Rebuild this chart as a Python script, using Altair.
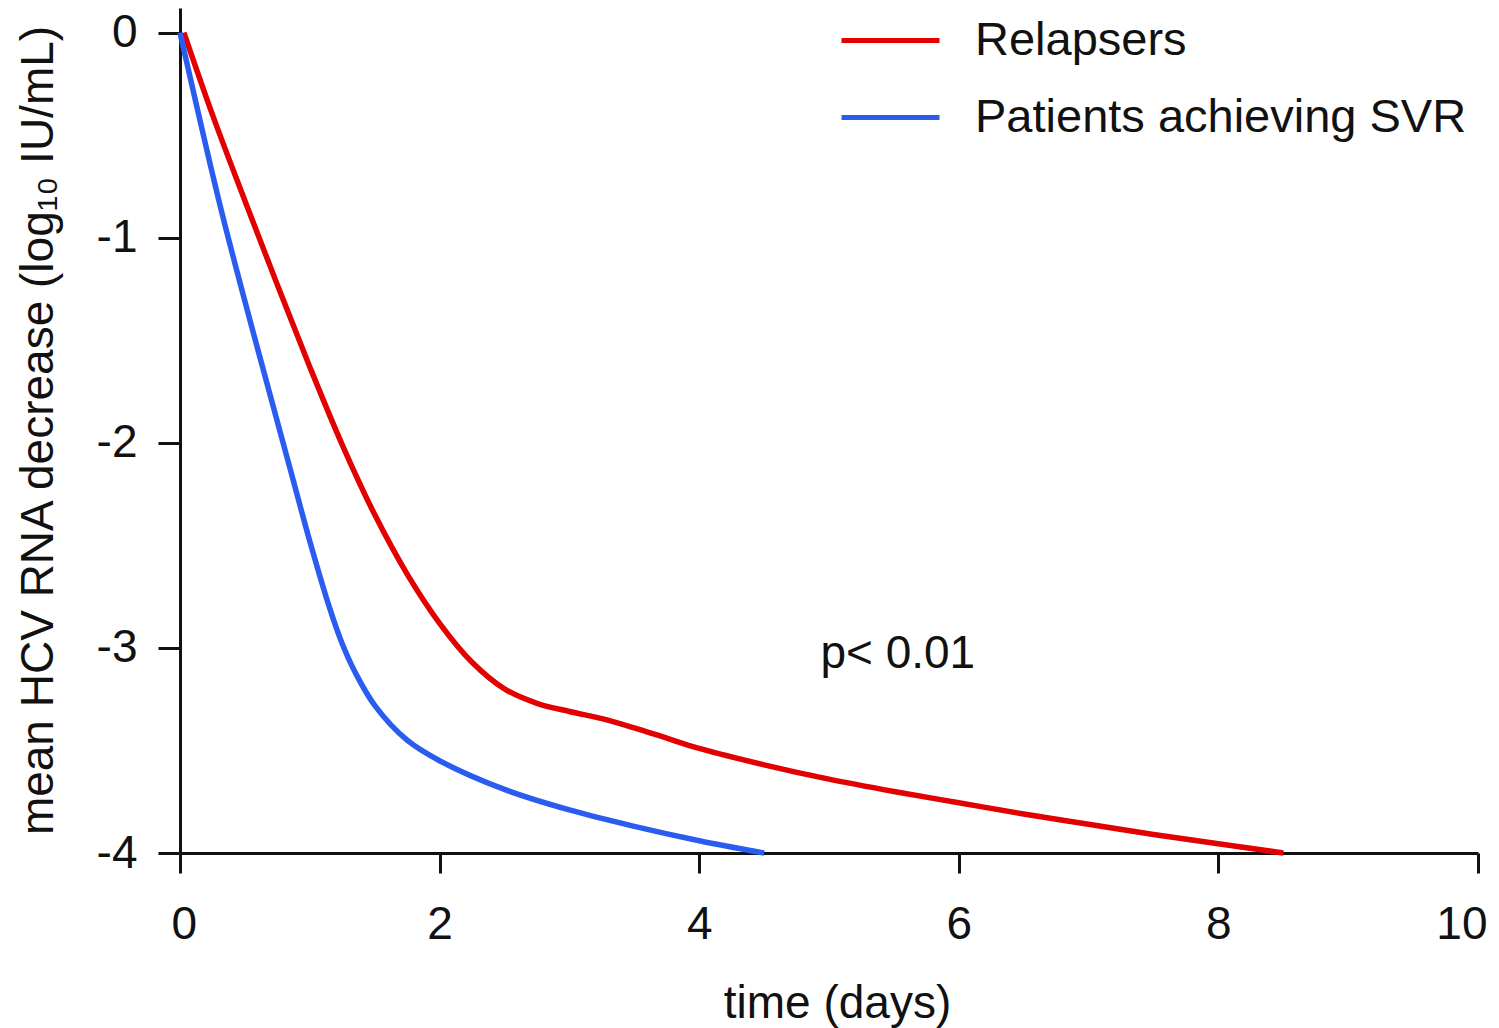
import altair as alt
import pandas as pd

# Mean HCV RNA decline (log10 IU/mL) over the first days of therapy
relapse_days = [0.03, 0.25, 0.5, 0.75, 1.0, 1.25, 1.5, 1.75, 2.0, 2.25, 2.5, 2.75,
                3.0, 3.25, 3.5, 3.75, 4.0, 4.5, 5.0, 5.5, 6.0, 6.5, 7.0, 7.5, 8.0, 8.5]
relapse_decline = [0.0, -0.40, -0.82, -1.23, -1.63, -2.01, -2.35, -2.64, -2.88, -3.07,
                   -3.20, -3.27, -3.31, -3.345, -3.39, -3.44, -3.49, -3.57, -3.64, -3.70,
                   -3.755, -3.81, -3.86, -3.91, -3.955, -4.0]

svr_days = [0.0, 0.3, 0.5, 0.7, 0.85, 1.0, 1.15, 1.25, 1.35, 1.5, 1.75, 2.0,
            2.5, 3.0, 3.5, 4.0, 4.5]
svr_decline = [0.0, -0.82, -1.31, -1.78, -2.13, -2.48, -2.80, -2.98, -3.12, -3.28,
               -3.45, -3.55, -3.69, -3.79, -3.87, -3.94, -4.0]

groups = ["Relapsers", "Patients achieving SVR"]
group_colors = ["#e30000", "#2b5cf0"]

x_ticks = [0, 2, 4, 6, 8, 10]
y_ticks = [0, -1, -2, -3, -4]

note_text = ["p< 0.01"]
note_day = [5.53]
note_value = [-3.03]

FONT = "Liberation Sans"

curves = pd.concat([
    pd.DataFrame({"day": relapse_days, "decline": relapse_decline, "group": groups[0]}),
    pd.DataFrame({"day": svr_days, "decline": svr_decline, "group": groups[1]}),
], ignore_index=True)

notes = pd.DataFrame({"day": note_day, "decline": note_value, "label": note_text})

x_scale = alt.Scale(domain=[0, 10], nice=False, zero=False)
y_scale = alt.Scale(domain=[-4, 0.12], nice=False, zero=False)

lines = alt.Chart(curves).mark_line(strokeWidth=5.5, interpolate="catmull-rom").encode(
    x=alt.X("day:Q", scale=x_scale,
            axis=alt.Axis(values=x_ticks, title="time (days)", grid=False,
                          labelExpr="toString(datum.value)",
                          labelFlush=True, labelFlushOffset=9,
                          tickSize=20, labelPadding=29,
                          titleX=657, titleY=164, titleAnchor="middle",
                          titleAlign="center", titleBaseline="alphabetic")),
    y=alt.Y("decline:Q", scale=y_scale,
            axis=alt.Axis(values=y_ticks, title="mean HCV RNA decrease (log\u2081\u2080 IU/mL)",
                          labelExpr="toString(datum.value)",
                          grid=False, tickSize=22, labelPadding=21,
                          titleX=-128, titleY=422, titleAngle=-90,
                          titleAlign="center", titleBaseline="alphabetic")),
    color=alt.Color("group:N", scale=alt.Scale(domain=groups, range=group_colors),
                    legend=alt.Legend(title=None, orient="none", legendX=659, legendY=-19,
                                      symbolType="stroke", symbolSize=9604,
                                      symbolStrokeWidth=5, labelFontSize=47,
                                      labelFont=FONT, labelColor="#111111",
                                      labelOffset=33, rowPadding=2, padding=0,
                                      labelLimit=800)),
    detail="group:N",
    order=alt.Order("day:Q"),
)

note = alt.Chart(notes).mark_text(fontSize=46, font=FONT, color="#111111",
                                  align="center", baseline="middle").encode(
    x=alt.X("day:Q", scale=x_scale),
    y=alt.Y("decline:Q", scale=y_scale),
    text="label:N",
)

chart = alt.layer(lines, note).properties(
    width=1298,
    height=845,
    padding={"left": 180, "top": 8, "right": 21, "bottom": 175},
    autosize=alt.AutoSizeParams(type="none"),
    background="white",
).configure_view(stroke=None).configure_axis(
    domainColor="#111111", domainWidth=3, tickColor="#111111", tickWidth=3,
    labelFont=FONT, labelFontSize=46, labelColor="#111111",
    titleFont=FONT, titleFontSize=46, titleColor="#111111", titleFontWeight="normal",
)

chart.save("out.html", embed_options={"renderer": "svg", "actions": False})
